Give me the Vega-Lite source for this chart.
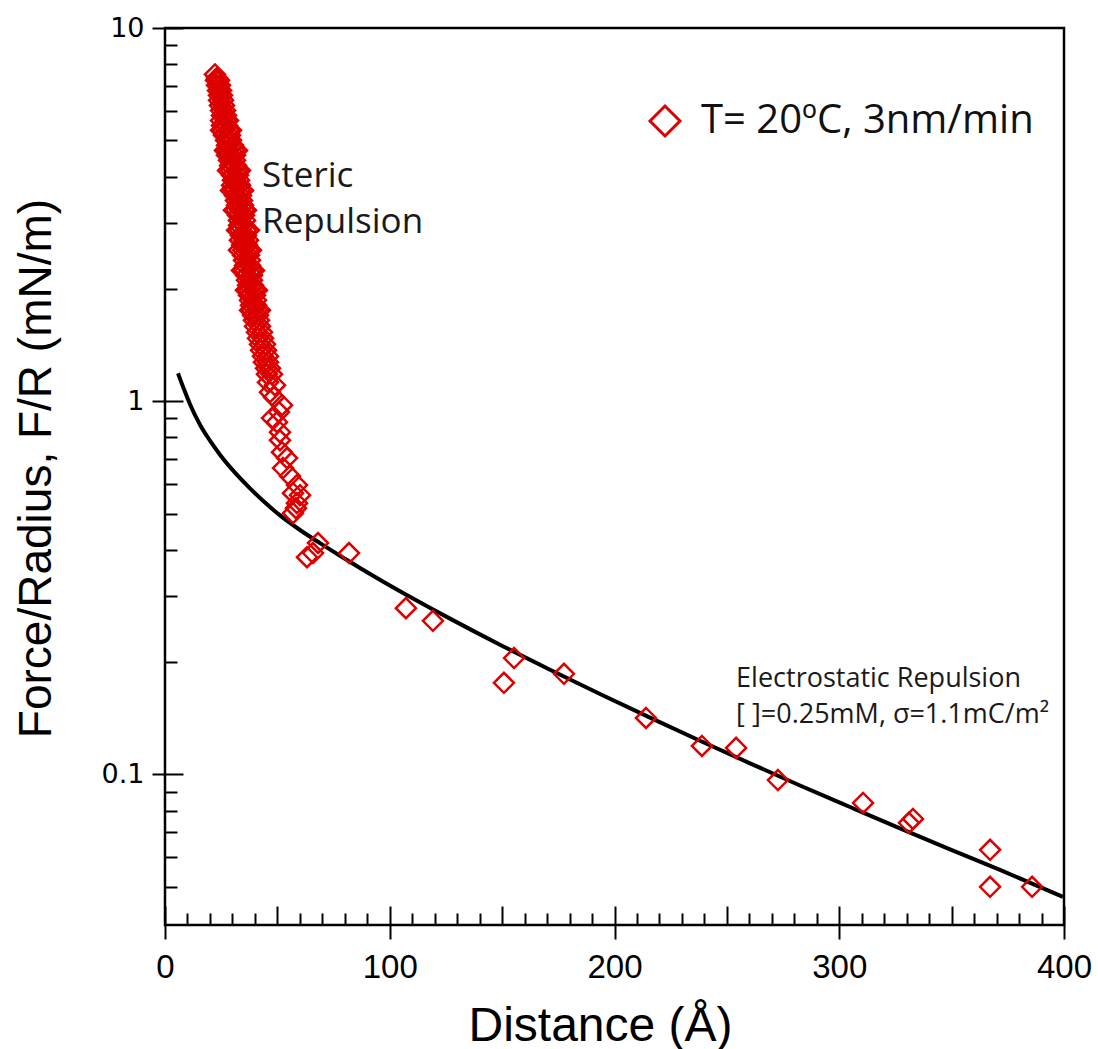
{
  "$schema": "https://vega.github.io/schema/vega-lite/v6.json",
  "width": 899,
  "height": 897,
  "autosize": {"type": "none"},
  "padding": {"left": 165, "top": 28, "right": 34, "bottom": 124},
  "background": "white",
  "config": {
    "view": {"stroke": "black", "strokeWidth": 2.5},
    "axis": {"domain": false, "grid": false, "tickColor": "black", "tickWidth": 2, "labelColor": "black", "titleColor": "black", "titleFontWeight": "normal"}
  },
  "datasets": {
    "points": [
      {"d":22.25,"f":7.51},{"d":23.14,"f":7.35},
      {"d":22.69,"f":7.24},{"d":24.03,"f":7.24},
      {"d":23.14,"f":7.02},{"d":24.47,"f":7.02},
      {"d":23.58,"f":6.80},{"d":24.92,"f":6.80},
      {"d":24.03,"f":6.60},{"d":25.36,"f":6.60},
      {"d":24.03,"f":6.40},{"d":25.81,"f":6.40},
      {"d":24.47,"f":6.20},{"d":26.25,"f":6.20},
      {"d":24.92,"f":6.01},{"d":26.70,"f":6.01},
      {"d":25.36,"f":5.83},{"d":27.14,"f":5.83},
      {"d":24.92,"f":5.65},{"d":27.14,"f":5.65},{"d":28.03,"f":5.65},
      {"d":25.36,"f":5.48},{"d":27.59,"f":5.48},
      {"d":25.81,"f":5.32},{"d":28.48,"f":5.32},{"d":24.92,"f":5.32},{"d":29.37,"f":5.32},
      {"d":26.25,"f":5.16},{"d":28.92,"f":5.16},
      {"d":27.14,"f":5.00},{"d":29.37,"f":5.00},
      {"d":27.59,"f":4.85},{"d":30.26,"f":4.85},
      {"d":28.03,"f":4.70},{"d":30.70,"f":4.70},{"d":26.70,"f":4.70},{"d":32.04,"f":4.70},
      {"d":27.59,"f":4.56},{"d":29.37,"f":4.56},{"d":31.15,"f":4.56},
      {"d":28.48,"f":4.42},{"d":31.15,"f":4.42},
      {"d":28.92,"f":4.28},{"d":31.59,"f":4.28},
      {"d":29.37,"f":4.15},{"d":32.04,"f":4.15},{"d":28.03,"f":4.15},{"d":33.37,"f":4.15},
      {"d":29.81,"f":4.03},{"d":32.48,"f":4.03},
      {"d":30.26,"f":3.91},{"d":32.93,"f":3.91},
      {"d":29.81,"f":3.79},{"d":31.59,"f":3.79},{"d":33.37,"f":3.79},
      {"d":30.70,"f":3.67},{"d":33.37,"f":3.67},{"d":29.37,"f":3.67},{"d":34.71,"f":3.67},
      {"d":31.15,"f":3.56},{"d":33.82,"f":3.56},
      {"d":31.59,"f":3.45},{"d":34.26,"f":3.45},
      {"d":32.04,"f":3.35},{"d":34.71,"f":3.35},
      {"d":31.59,"f":3.25},{"d":33.37,"f":3.25},{"d":35.15,"f":3.25},{"d":30.70,"f":3.25},{"d":36.04,"f":3.25},
      {"d":32.48,"f":3.15},{"d":35.15,"f":3.15},
      {"d":32.93,"f":3.05},{"d":35.60,"f":3.05},
      {"d":32.93,"f":2.96},{"d":35.15,"f":2.96},
      {"d":33.37,"f":2.87},{"d":36.04,"f":2.87},{"d":32.04,"f":2.87},{"d":37.37,"f":2.87},
      {"d":33.82,"f":2.78},{"d":36.04,"f":2.78},
      {"d":33.37,"f":2.70},{"d":35.15,"f":2.70},{"d":36.93,"f":2.70},
      {"d":34.26,"f":2.62},{"d":36.49,"f":2.62},
      {"d":34.71,"f":2.54},{"d":36.93,"f":2.54},{"d":32.93,"f":2.54},{"d":38.26,"f":2.54},
      {"d":34.71,"f":2.46},{"d":37.37,"f":2.46},
      {"d":35.15,"f":2.385},{"d":37.82,"f":2.385},
      {"d":35.60,"f":2.31},{"d":37.82,"f":2.31},
      {"d":35.60,"f":2.24},{"d":38.26,"f":2.24},{"d":34.26,"f":2.24},{"d":39.60,"f":2.24},
      {"d":36.04,"f":2.175},{"d":38.71,"f":2.175},
      {"d":36.49,"f":2.11},{"d":38.71,"f":2.11},
      {"d":36.93,"f":2.045},{"d":39.15,"f":2.045},
      {"d":37.37,"f":1.983},{"d":39.60,"f":1.983},{"d":36.04,"f":1.983},{"d":40.93,"f":1.983},
      {"d":37.37,"f":1.922},{"d":40.04,"f":1.922},
      {"d":37.82,"f":1.864},{"d":40.49,"f":1.864},
      {"d":38.26,"f":1.807},{"d":40.49,"f":1.807},
      {"d":38.71,"f":1.752},{"d":40.93,"f":1.752},{"d":37.82,"f":1.752},{"d":42.27,"f":1.752},
      {"d":39.15,"f":1.699},{"d":41.38,"f":1.699},
      {"d":39.60,"f":1.648},{"d":41.82,"f":1.648},
      {"d":40.04,"f":1.588},{"d":42.27,"f":1.588},
      {"d":40.93,"f":1.53},{"d":43.16,"f":1.53},
      {"d":41.38,"f":1.474},{"d":43.60,"f":1.474},
      {"d":42.27,"f":1.421},{"d":44.49,"f":1.421},
      {"d":42.71,"f":1.369},{"d":44.94,"f":1.369},
      {"d":43.60,"f":1.32},{"d":45.83,"f":1.32},
      {"d":44.05,"f":1.272},{"d":45.83,"f":1.272},
      {"d":44.94,"f":1.225},{"d":46.72,"f":1.225},
      {"d":45.38,"f":1.181},{"d":47.61,"f":1.181},
      {"d":45.83,"f":1.124},{"d":48.94,"f":1.104},
      {"d":46.72,"f":1.057},{"d":48.50,"f":1.025},
      {"d":52.06,"f":0.976},{"d":50.72,"f":0.935},
      {"d":47.61,"f":0.901},{"d":49.83,"f":0.879},
      {"d":51.17,"f":0.826},{"d":51.17,"f":0.786},
      {"d":52.06,"f":0.730},{"d":54.28,"f":0.704},
      {"d":52.50,"f":0.662},{"d":55.62,"f":0.630},
      {"d":58.73,"f":0.596},{"d":56.95,"f":0.567},
      {"d":60.07,"f":0.560},{"d":58.73,"f":0.533},
      {"d":58.29,"f":0.517},{"d":56.95,"f":0.501},
      {"d":68.08,"f":0.417},{"d":65.85,"f":0.392},
      {"d":63.18,"f":0.382},{"d":81.87,"f":0.392},
      {"d":107.2,"f":0.279},{"d":119.2,"f":0.258},
      {"d":150.8,"f":0.176},{"d":155.3,"f":0.205},
      {"d":177.5,"f":0.186},{"d":214.0,"f":0.1417},
      {"d":238.9,"f":0.1192},{"d":254.1,"f":0.1178},
      {"d":272.7,"f":0.0966},{"d":310.6,"f":0.0839},
      {"d":331.0,"f":0.0742},{"d":332.8,"f":0.0760},
      {"d":367.1,"f":0.0628},{"d":367.1,"f":0.0500},
      {"d":385.8,"f":0.0500}
    ],
    "curve": [
      {"d":5.78,"f":1.1883},{"d":8.45,"f":1.0768},{"d":11.12,"f":0.9817},{"d":15.57,"f":0.8652},
      {"d":20.02,"f":0.7839},{"d":24.47,"f":0.7191},{"d":31.15,"f":0.6434},{"d":37.82,"f":0.5840},
      {"d":44.49,"f":0.5350},{"d":51.17,"f":0.4944},{"d":60.07,"f":0.4518},{"d":68.97,"f":0.4166},
      {"d":77.86,"f":0.3854},{"d":86.76,"f":0.3574},{"d":97.89,"f":0.3264},{"d":110.35,"f":0.2961},
      {"d":126.81,"f":0.2615},{"d":149.05,"f":0.2226},{"d":171.30,"f":0.1908},{"d":193.55,"f":0.1643},
      {"d":215.79,"f":0.1420},{"d":238.04,"f":0.1231},{"d":260.29,"f":0.1071},{"d":282.54,"f":0.0934},
      {"d":304.78,"f":0.0818},{"d":327.03,"f":0.0717},{"d":349.28,"f":0.0630},{"d":371.52,"f":0.0555},
      {"d":399.55,"f":0.0470}
    ],
    "steric": [
      {"d":43.2,"f":3.741,"t":"Steric"},
      {"d":43.2,"f":2.817,"t":"Repulsion"}
    ],
    "electro": [
      {"d":254.1,"f":0.1715,"t":"Electrostatic Repulsion"},
      {"d":254.1,"f":0.1373,"t":"[ ]=0.25mM, σ=1.1mC/m²"}
    ]
  },
  "resolve": {"axis": {"x": "independent", "y": "independent"}},
  "layer": [
    {
      "data": {"name": "curve"},
      "mark": {"type": "line", "color": "black", "strokeWidth": 4, "interpolate": "monotone"},
      "encoding": {
        "x": {"field": "d", "type": "quantitative", "scale": {"domain": [0, 400], "nice": false, "zero": false},
          "axis": {"orient": "bottom", "values": [0, 100, 200, 300, 400], "offset": -19, "tickSize": 33, "labelPadding": 12, "labelFont": "Liberation Sans", "labelFontSize": 33, "labelFlush": false, "labelOverlap": false, "title": null}},
        "y": {"field": "f", "type": "quantitative", "scale": {"type": "log", "domain": [0.0395, 10], "nice": false},
          "axis": {"orient": "left", "values": [0.1, 1, 10], "format": "~g", "offset": -18, "tickSize": 31, "labelPadding": 8, "labelFont": "DejaVu Sans", "labelFontSize": 27, "labelOverlap": false, "title": null}}
      }
    },
    {
      "data": {"name": "points"},
      "mark": {"type": "point", "shape": "diamond", "filled": false, "size": 400, "strokeWidth": 2.5, "opacity": 1},
      "encoding": {
        "x": {"field": "d", "type": "quantitative", "scale": {"domain": [0, 400], "nice": false, "zero": false},
          "axis": {"orient": "bottom", "values": [10,20,30,40,60,70,80,90,110,120,130,140,160,170,180,190,210,220,230,240,260,270,280,290,310,320,330,340,360,370,380,390], "offset": -12, "tickSize": 12, "labels": false,
            "title": "Distance (Å)", "titleFont": "Liberation Sans", "titleFontSize": 48, "titleX": 435, "titleY": 127, "titleAlign": "center", "titleBaseline": "alphabetic"}},
        "y": {"field": "f", "type": "quantitative", "scale": {"type": "log", "domain": [0.0395, 10], "nice": false},
          "axis": {"orient": "left", "values": [0.05,0.06,0.07,0.08,0.09,0.2,0.3,0.4,0.5,0.6,0.7,0.8,0.9,2,3,4,5,6,7,8,9], "offset": -12, "tickSize": 12, "labels": false,
            "title": "Force/Radius, F/R (mN/m)", "titleFont": "Liberation Sans", "titleFontSize": 46, "titleX": -127, "titleY": 440, "titleAngle": -90, "titleAlign": "center", "titleBaseline": "alphabetic"}},
        "color": {"datum": "T= 20ºC, 3nm/min", "scale": {"range": ["#dd0000"]},
          "legend": {"orient": "none", "legendX": 480, "legendY": 73, "title": null, "symbolType": "diamond", "symbolSize": 900, "symbolStrokeWidth": 3, "symbolFillColor": "transparent", "labelFont": "Open Sans", "labelFontSize": 40, "labelColor": "#111111", "labelOffset": 16, "padding": 0, "labelLimit": 600}}
      }
    },
    {
      "data": {"name": "steric"},
      "mark": {"type": "text", "align": "left", "baseline": "alphabetic", "font": "Open Sans", "fontSize": 35, "color": "#1a1a1a"},
      "encoding": {
        "x": {"field": "d", "type": "quantitative", "scale": {"domain": [0, 400], "nice": false, "zero": false},
          "axis": {"orient": "bottom", "values": [50, 150, 250, 350], "offset": -19, "tickSize": 19, "labels": false, "title": null}},
        "y": {"field": "f", "type": "quantitative", "scale": {"type": "log", "domain": [0.0395, 10], "nice": false}, "axis": null},
        "text": {"field": "t"}
      }
    },
    {
      "data": {"name": "electro"},
      "mark": {"type": "text", "align": "left", "baseline": "alphabetic", "font": "Open Sans", "fontSize": 27, "color": "#1a1a1a"},
      "encoding": {
        "x": {"field": "d", "type": "quantitative", "scale": {"domain": [0, 400], "nice": false, "zero": false}, "axis": null},
        "y": {"field": "f", "type": "quantitative", "scale": {"type": "log", "domain": [0.0395, 10], "nice": false}, "axis": null},
        "text": {"field": "t"}
      }
    }
  ]
}
